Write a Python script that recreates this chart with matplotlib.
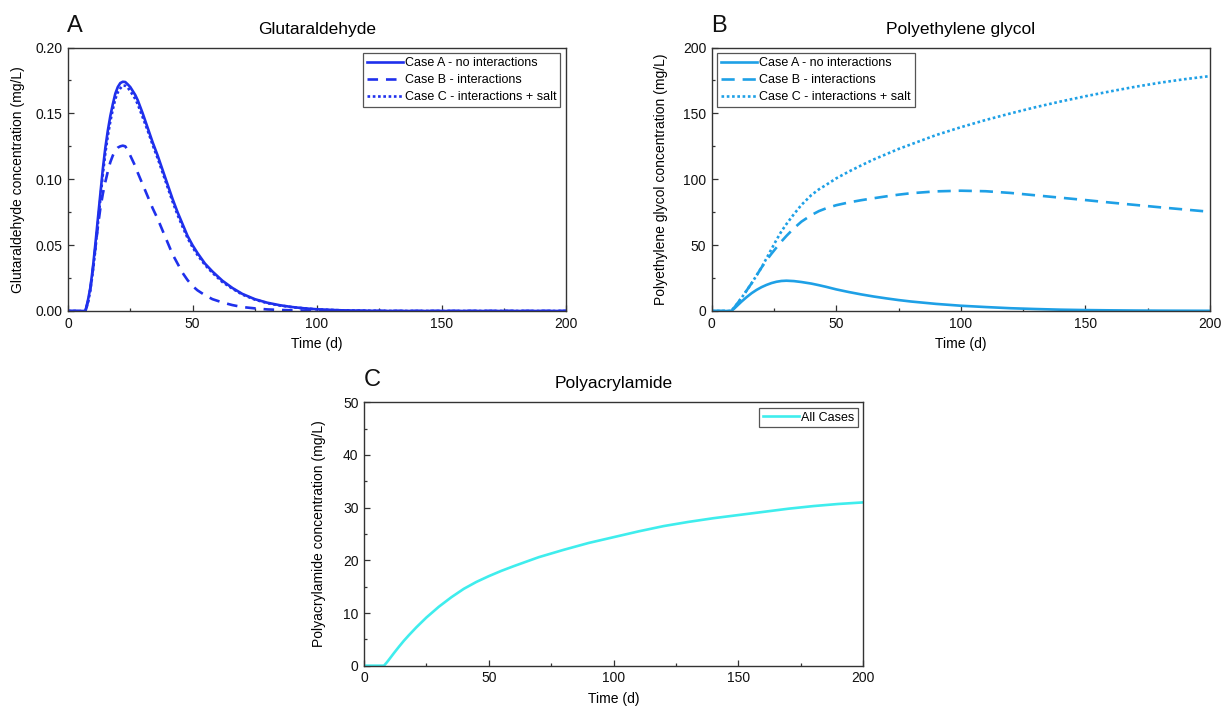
import matplotlib
matplotlib.use("Agg")
import matplotlib.pyplot as plt
from matplotlib.ticker import MultipleLocator, AutoMinorLocator, FormatStrFormatter

plt.rcParams['font.family'] = ['Liberation Sans', 'DejaVu Sans']

# ---------------- Glutaraldehyde (panel A) ----------------
ga_t = [0, 7, 8, 9, 10, 11, 12, 13, 14, 15, 16, 17, 18, 19, 20, 21, 22, 23, 24, 25,
        26, 27, 28, 30, 32, 34, 36, 38, 40, 42, 44, 46, 48, 50, 52, 55, 58, 62, 66,
        70, 75, 80, 85, 90, 95, 100, 110, 120, 130, 200]
ga_case_a = [0, 0, 0.008, 0.018, 0.033, 0.051, 0.070, 0.089, 0.108, 0.124, 0.137, 0.148,
             0.157, 0.165, 0.170, 0.173, 0.174, 0.1738, 0.172, 0.170, 0.167, 0.164, 0.160,
             0.150, 0.139, 0.128, 0.118, 0.107, 0.096, 0.085, 0.075, 0.066, 0.057, 0.050,
             0.044, 0.036, 0.030, 0.023, 0.0175, 0.013, 0.009, 0.0063, 0.0044, 0.003,
             0.002, 0.0013, 0.0005, 0.0002, 0, 0]
ga_case_b = [0, 0, 0.007, 0.017, 0.032, 0.048, 0.064, 0.078, 0.089, 0.098, 0.106, 0.113,
             0.118, 0.122, 0.124, 0.125, 0.1255, 0.125, 0.122, 0.118, 0.114, 0.110, 0.105,
             0.096, 0.087, 0.078, 0.070, 0.061, 0.052, 0.043, 0.036, 0.029, 0.0235, 0.019,
             0.0157, 0.012, 0.009, 0.0065, 0.0045, 0.003, 0.002, 0.0012, 0.0008, 0.0005,
             0.0003, 0.0002, 0, 0, 0, 0]
ga_case_c = [0, 0, 0.006, 0.016, 0.030, 0.047, 0.066, 0.085, 0.104, 0.120, 0.133, 0.144,
             0.153, 0.161, 0.166, 0.169, 0.171, 0.171, 0.1695, 0.167, 0.164, 0.161, 0.157,
             0.147, 0.137, 0.126, 0.116, 0.105, 0.094, 0.083, 0.073, 0.064, 0.0555, 0.0485,
             0.0425, 0.035, 0.029, 0.022, 0.017, 0.0125, 0.0087, 0.006, 0.0042, 0.0029,
             0.002, 0.0012, 0.0005, 0.0002, 0, 0]

# ---------------- Polyethylene glycol (panel B) ----------------
peg_t = [0, 7, 8, 9, 10, 12, 14, 16, 18, 20, 22, 24, 26, 28, 30, 33, 36, 40, 43, 46, 50,
         55, 60, 65, 70, 75, 80, 90, 100, 110, 120, 130, 140, 150, 160, 170, 180, 190, 200]
peg_case_a = [0, 0, 0.3, 1.8, 3.6, 7.2, 10.5, 13.5, 16.0, 18.1, 19.8, 21.2, 22.2, 22.8,
              23.0, 22.7, 22.0, 20.8, 19.6, 18.3, 16.4, 14.4, 12.6, 11.0, 9.6, 8.3, 7.2,
              5.4, 4.0, 3.0, 2.1, 1.5, 1.0, 0.7, 0.5, 0.35, 0.25, 0.2, 0.15]
peg_case_b = [0, 0, 0.5, 2.5, 5.0, 10.0, 15.5, 21.0, 27.0, 33.0, 38.5, 43.5, 48.2, 52.8,
              57.0, 62.8, 67.8, 72.8, 75.8, 78.0, 80.3, 82.4, 84.1, 85.6, 87.0, 88.3, 89.4,
              90.8, 91.3, 90.9, 89.6, 87.8, 86.0, 84.2, 82.3, 80.5, 78.7, 77.0, 75.3]
peg_case_c = [0, 0, 0.5, 2.5, 5.0, 10.0, 15.5, 21.0, 27.0, 33.0, 40.0, 47.0, 54.0, 60.5,
              66.0, 73.5, 80.5, 88.0, 92.3, 95.8, 100.7, 105.8, 110.5, 115.0, 119.0, 123.0,
              126.5, 133.5, 139.5, 145.0, 150.0, 154.7, 159.0, 163.0, 166.7, 170.2, 173.3,
              176.0, 178.3]

# ---------------- Polyacrylamide (panel C) ----------------
pam_t = [0, 8, 9, 10, 12, 14, 16, 18, 21, 25, 30, 35, 40, 45, 50, 55, 60, 70, 80, 90,
         100, 110, 120, 130, 140, 150, 160, 170, 180, 190, 200]
pam_all = [0, 0, 0.55, 1.15, 2.4, 3.6, 4.75, 5.8, 7.3, 9.15, 11.2, 13.0, 14.6, 15.9, 17.0,
           18.0, 18.9, 20.6, 22.0, 23.3, 24.4, 25.5, 26.5, 27.3, 28.0, 28.6, 29.2, 29.8,
           30.3, 30.7, 31.0]

case_labels = ["Case A - no interactions", "Case B - interactions",
               "Case C - interactions + salt"]
x_ticks = [0, 50, 100, 150, 200]

W, H = 1228, 706
fig = plt.figure(figsize=(W / 100, H / 100), dpi=100)


def px_axes(left, top, right, bottom):
    return fig.add_axes([left / W, 1 - bottom / H, (right - left) / W, (bottom - top) / H])


def style(ax, ymax, ystep, yfmt=None):
    for s in ax.spines.values():
        s.set_color('#333333')
        s.set_linewidth(1.0)
    ax.set_xlim(0, 200)
    ax.set_ylim(0, ymax)
    ax.set_xticks(x_ticks)
    ax.yaxis.set_major_locator(MultipleLocator(ystep))
    ax.xaxis.set_minor_locator(AutoMinorLocator(2))
    ax.yaxis.set_minor_locator(AutoMinorLocator(2))
    if yfmt:
        ax.yaxis.set_major_formatter(FormatStrFormatter(yfmt))
    ax.tick_params(which='both', direction='in', top=False, right=False,
                   width=0.9, color='#333333', labelsize=10, labelcolor='#111111')
    ax.tick_params(which='major', length=4.5, pad=4)
    ax.tick_params(which='minor', length=2.5)
    ax.set_xlabel("Time (d)", fontsize=10, labelpad=5)


def legend(ax, loc):
    lg = ax.legend(loc=loc, fontsize=9, frameon=True, fancybox=False, framealpha=1,
                   edgecolor='#555555', borderpad=0.3, labelspacing=0.4,
                   handlelength=2.9, handletextpad=0.15, borderaxespad=0.45)
    lg.get_frame().set_linewidth(0.9)
    return lg


lw = 1.9

# Panel A
axA = px_axes(68, 47.5, 566, 311)
cA = '#1f30ec'
axA.plot(ga_t, ga_case_a, color=cA, lw=lw, label=case_labels[0])
axA.plot(ga_t, ga_case_b, color=cA, lw=lw, ls=(0, (4, 3)), label=case_labels[1])
axA.plot(ga_t, ga_case_c, color=cA, lw=lw, ls=(0, (1, 1)), label=case_labels[2])
style(axA, 0.20, 0.05, '%.2f')
axA.set_ylabel("Glutaraldehyde concentration (mg/L)", fontsize=10)
axA.yaxis.set_label_coords(-0.087, 0.5)
axA.set_title("Glutaraldehyde", fontsize=12.5, pad=10)
legend(axA, 'upper right')

# Panel B
axB = px_axes(711.7, 47.5, 1210, 311)
cB = '#1ea0e6'
axB.plot(peg_t, peg_case_a, color=cB, lw=lw, label=case_labels[0])
axB.plot(peg_t, peg_case_b, color=cB, lw=lw, ls=(0, (5, 3)), label=case_labels[1])
axB.plot(peg_t, peg_case_c, color=cB, lw=lw, ls=(0, (1, 1)), label=case_labels[2])
style(axB, 200, 50)
axB.set_ylabel("Polyethylene glycol concentration (mg/L)", fontsize=10)
axB.yaxis.set_label_coords(-0.088, 0.5)
axB.set_title("Polyethylene glycol", fontsize=12.5, pad=10)
legend(axB, 'upper left')

# Panel C
axC = px_axes(364, 402.3, 863.3, 665.7)
cC = '#3feded'
axC.plot(pam_t, pam_all, color=cC, lw=lw, label="All Cases")
style(axC, 50, 10)
axC.set_ylabel("Polyacrylamide concentration (mg/L)", fontsize=10)
axC.yaxis.set_label_coords(-0.076, 0.5)
axC.set_title("Polyacrylamide", fontsize=12.5, pad=10)
legend(axC, 'upper right')

# Panel letters
for letter, x, y in [("A", 67, 32), ("B", 711, 32), ("C", 364, 386)]:
    fig.text(x / W, 1 - y / H, letter, fontsize=17, ha='left', va='baseline',
             color='#111111')

fig.savefig("out.png", dpi=100, facecolor='white')
